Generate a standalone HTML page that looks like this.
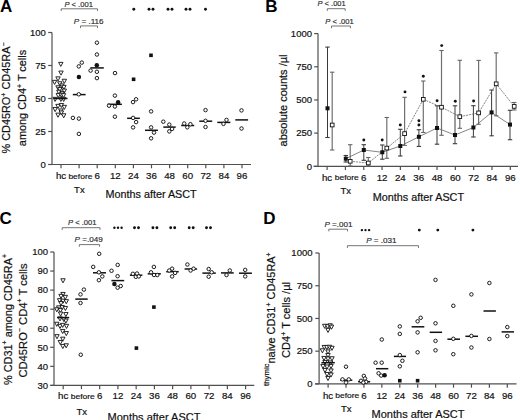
<!DOCTYPE html>
<html><head><meta charset="utf-8"><style>
html,body{margin:0;padding:0;background:#fff;overflow:hidden;}
svg{display:block;font-family:"Liberation Sans", sans-serif;}
text{stroke:#111;stroke-width:0.2px;}
</style></head><body>
<svg width="520" height="420" viewBox="0 0 520 420">
<line x1="52.00" y1="32.50" x2="52.00" y2="164.50" stroke="#505050" stroke-width="1.2" />
<line x1="48.20" y1="164.50" x2="52.00" y2="164.50" stroke="#505050" stroke-width="1.2" />
<text x="45.80" y="167.80" font-size="9.5" text-anchor="end" font-weight="normal" font-style="normal" fill="#111" >0</text>
<line x1="48.20" y1="131.50" x2="52.00" y2="131.50" stroke="#505050" stroke-width="1.2" />
<text x="45.80" y="134.80" font-size="9.5" text-anchor="end" font-weight="normal" font-style="normal" fill="#111" >25</text>
<line x1="48.20" y1="98.50" x2="52.00" y2="98.50" stroke="#505050" stroke-width="1.2" />
<text x="45.80" y="101.80" font-size="9.5" text-anchor="end" font-weight="normal" font-style="normal" fill="#111" >50</text>
<line x1="48.20" y1="65.50" x2="52.00" y2="65.50" stroke="#505050" stroke-width="1.2" />
<text x="45.80" y="68.80" font-size="9.5" text-anchor="end" font-weight="normal" font-style="normal" fill="#111" >75</text>
<line x1="48.20" y1="32.50" x2="52.00" y2="32.50" stroke="#505050" stroke-width="1.2" />
<text x="45.80" y="35.80" font-size="9.5" text-anchor="end" font-weight="normal" font-style="normal" fill="#111" >100</text>
<line x1="48.50" y1="164.50" x2="251.00" y2="164.50" stroke="#505050" stroke-width="1.2" />
<line x1="61.00" y1="164.50" x2="61.00" y2="168.30" stroke="#505050" stroke-width="1.2" />
<text x="61.00" y="178.80" font-size="9.7" text-anchor="middle" font-weight="normal" font-style="normal" fill="#111" >hc</text>
<line x1="79.10" y1="164.50" x2="79.10" y2="168.30" stroke="#505050" stroke-width="1.2" />
<text transform="translate(80.40,178.70) scale(1.13,1)" font-size="7.5" text-anchor="middle" fill="#111" style="stroke-width:0.16px">before</text>
<line x1="97.20" y1="164.50" x2="97.20" y2="168.30" stroke="#505050" stroke-width="1.2" />
<text x="97.20" y="178.80" font-size="9.7" text-anchor="middle" font-weight="normal" font-style="normal" fill="#111" >6</text>
<line x1="115.30" y1="164.50" x2="115.30" y2="168.30" stroke="#505050" stroke-width="1.2" />
<text x="115.30" y="178.80" font-size="9.7" text-anchor="middle" font-weight="normal" font-style="normal" fill="#111" >12</text>
<line x1="133.40" y1="164.50" x2="133.40" y2="168.30" stroke="#505050" stroke-width="1.2" />
<text x="133.40" y="178.80" font-size="9.7" text-anchor="middle" font-weight="normal" font-style="normal" fill="#111" >24</text>
<line x1="151.50" y1="164.50" x2="151.50" y2="168.30" stroke="#505050" stroke-width="1.2" />
<text x="151.50" y="178.80" font-size="9.7" text-anchor="middle" font-weight="normal" font-style="normal" fill="#111" >36</text>
<line x1="169.60" y1="164.50" x2="169.60" y2="168.30" stroke="#505050" stroke-width="1.2" />
<text x="169.60" y="178.80" font-size="9.7" text-anchor="middle" font-weight="normal" font-style="normal" fill="#111" >48</text>
<line x1="187.70" y1="164.50" x2="187.70" y2="168.30" stroke="#505050" stroke-width="1.2" />
<text x="187.70" y="178.80" font-size="9.7" text-anchor="middle" font-weight="normal" font-style="normal" fill="#111" >60</text>
<line x1="205.80" y1="164.50" x2="205.80" y2="168.30" stroke="#505050" stroke-width="1.2" />
<text x="205.80" y="178.80" font-size="9.7" text-anchor="middle" font-weight="normal" font-style="normal" fill="#111" >72</text>
<line x1="223.90" y1="164.50" x2="223.90" y2="168.30" stroke="#505050" stroke-width="1.2" />
<text x="223.90" y="178.80" font-size="9.7" text-anchor="middle" font-weight="normal" font-style="normal" fill="#111" >84</text>
<line x1="242.00" y1="164.50" x2="242.00" y2="168.30" stroke="#505050" stroke-width="1.2" />
<text x="242.00" y="178.80" font-size="9.7" text-anchor="middle" font-weight="normal" font-style="normal" fill="#111" >96</text>
<text x="79.40" y="193.40" font-size="9.5" text-anchor="middle" font-weight="normal" font-style="normal" fill="#111" >Tx</text>
<text x="105.50" y="198.20" font-size="10.8" text-anchor="start" font-weight="normal" font-style="normal" fill="#111" >Months after ASCT</text>
<text x="0.00" y="12.40" font-size="17" text-anchor="start" font-weight="bold" font-style="normal" fill="#000" style="stroke-width:0">A</text>
<text transform="translate(10.40,98.00) rotate(-90)" x="0" y="0" font-size="10.9" text-anchor="middle" fill="#111">% CD45RO<tspan font-size="7" dy="-4.2">+</tspan><tspan dy="4.2"> </tspan>CD45RA<tspan font-size="7" dy="-4.2">−</tspan></text>
<text transform="translate(25.80,98.00) rotate(-90)" x="0" y="0" font-size="10.9" text-anchor="middle" fill="#111">among CD4<tspan font-size="7" dy="-4.2">+</tspan><tspan dy="4.2"> </tspan>T cells</text>
<text x="64.40" y="6.60" font-size="7.6" fill="#2a2a2a" style="stroke:#2a2a2a;stroke-width:0.16px"><tspan font-style="italic">P</tspan> &lt; .001</text>
<path d="M61.20,11.00V8.80H97.50V11.00" fill="none" stroke="#666" stroke-width="0.9"/>
<text x="73.80" y="24.40" font-size="8.1" fill="#2a2a2a" style="stroke:#2a2a2a;stroke-width:0.16px"><tspan font-style="italic">P</tspan> = .116</text>
<path d="M80.50,28.10V25.90H97.50V28.10" fill="none" stroke="#666" stroke-width="0.9"/>
<circle cx="133.80" cy="9.20" r="1.45" fill="#111"/>
<circle cx="149.00" cy="9.20" r="1.45" fill="#111"/>
<circle cx="153.00" cy="9.20" r="1.45" fill="#111"/>
<circle cx="168.00" cy="9.20" r="1.45" fill="#111"/>
<circle cx="172.00" cy="9.20" r="1.45" fill="#111"/>
<circle cx="186.00" cy="9.20" r="1.45" fill="#111"/>
<circle cx="190.00" cy="9.20" r="1.45" fill="#111"/>
<circle cx="205.50" cy="9.20" r="1.45" fill="#111"/>
<path d="M58.60,62.35H63.00L60.80,66.45Z" fill="#fff" stroke="#111" stroke-width="0.9" stroke-linejoin="miter"/>
<path d="M58.80,71.05H63.20L61.00,75.15Z" fill="#fff" stroke="#111" stroke-width="0.9" stroke-linejoin="miter"/>
<path d="M55.80,76.85H60.20L58.00,80.95Z" fill="#fff" stroke="#111" stroke-width="0.9" stroke-linejoin="miter"/>
<path d="M62.10,79.25H66.50L64.30,83.35Z" fill="#fff" stroke="#111" stroke-width="0.9" stroke-linejoin="miter"/>
<path d="M52.40,80.35H56.80L54.60,84.45Z" fill="#fff" stroke="#111" stroke-width="0.9" stroke-linejoin="miter"/>
<path d="M57.60,81.75H62.00L59.80,85.85Z" fill="#fff" stroke="#111" stroke-width="0.9" stroke-linejoin="miter"/>
<path d="M59.70,83.95H64.10L61.90,88.05Z" fill="#fff" stroke="#111" stroke-width="0.9" stroke-linejoin="miter"/>
<path d="M55.80,85.75H60.20L58.00,89.85Z" fill="#fff" stroke="#111" stroke-width="0.9" stroke-linejoin="miter"/>
<path d="M61.70,85.35H66.10L63.90,89.45Z" fill="#fff" stroke="#111" stroke-width="0.9" stroke-linejoin="miter"/>
<path d="M57.60,87.55H62.00L59.80,91.65Z" fill="#fff" stroke="#111" stroke-width="0.9" stroke-linejoin="miter"/>
<path d="M62.10,89.05H66.50L64.30,93.15Z" fill="#fff" stroke="#111" stroke-width="0.9" stroke-linejoin="miter"/>
<path d="M56.70,90.25H61.10L58.90,94.35Z" fill="#fff" stroke="#111" stroke-width="0.9" stroke-linejoin="miter"/>
<path d="M60.00,91.45H64.40L62.20,95.55Z" fill="#fff" stroke="#111" stroke-width="0.9" stroke-linejoin="miter"/>
<path d="M56.10,93.45H60.50L58.30,97.55Z" fill="#fff" stroke="#111" stroke-width="0.9" stroke-linejoin="miter"/>
<path d="M59.10,93.15H63.50L61.30,97.25Z" fill="#fff" stroke="#111" stroke-width="0.9" stroke-linejoin="miter"/>
<path d="M61.30,93.65H65.70L63.50,97.75Z" fill="#fff" stroke="#111" stroke-width="0.9" stroke-linejoin="miter"/>
<path d="M52.90,97.35H57.30L55.10,101.45Z" fill="#fff" stroke="#111" stroke-width="0.9" stroke-linejoin="miter"/>
<path d="M58.70,97.35H63.10L60.90,101.45Z" fill="#fff" stroke="#111" stroke-width="0.9" stroke-linejoin="miter"/>
<path d="M61.50,97.35H65.90L63.70,101.45Z" fill="#fff" stroke="#111" stroke-width="0.9" stroke-linejoin="miter"/>
<path d="M55.80,104.35H60.20L58.00,108.45Z" fill="#fff" stroke="#111" stroke-width="0.9" stroke-linejoin="miter"/>
<path d="M59.20,103.45H63.60L61.40,107.55Z" fill="#fff" stroke="#111" stroke-width="0.9" stroke-linejoin="miter"/>
<path d="M62.10,105.35H66.50L64.30,109.45Z" fill="#fff" stroke="#111" stroke-width="0.9" stroke-linejoin="miter"/>
<path d="M52.90,107.55H57.30L55.10,111.65Z" fill="#fff" stroke="#111" stroke-width="0.9" stroke-linejoin="miter"/>
<path d="M58.70,108.95H63.10L60.90,113.05Z" fill="#fff" stroke="#111" stroke-width="0.9" stroke-linejoin="miter"/>
<path d="M59.20,110.95H63.60L61.40,115.05Z" fill="#fff" stroke="#111" stroke-width="0.9" stroke-linejoin="miter"/>
<path d="M55.80,113.15H60.20L58.00,117.25Z" fill="#fff" stroke="#111" stroke-width="0.9" stroke-linejoin="miter"/>
<path d="M61.50,113.75H65.90L63.70,117.85Z" fill="#fff" stroke="#111" stroke-width="0.9" stroke-linejoin="miter"/>
<line x1="54.00" y1="98.50" x2="67.50" y2="98.50" stroke="#111" stroke-width="1.5" />
<line x1="72.80" y1="94.60" x2="85.60" y2="94.60" stroke="#111" stroke-width="1.5" />
<circle cx="78.80" cy="66.40" r="1.75" fill="#fff" stroke="#111" stroke-width="0.95"/>
<circle cx="81.80" cy="62.60" r="1.75" fill="#fff" stroke="#111" stroke-width="0.95"/>
<circle cx="78.80" cy="94.30" r="1.75" fill="#fff" stroke="#111" stroke-width="0.95"/>
<circle cx="72.90" cy="117.90" r="1.75" fill="#fff" stroke="#111" stroke-width="0.95"/>
<circle cx="78.90" cy="118.60" r="1.75" fill="#fff" stroke="#111" stroke-width="0.95"/>
<circle cx="78.90" cy="133.90" r="1.75" fill="#fff" stroke="#111" stroke-width="0.95"/>
<circle cx="78.90" cy="76.90" r="2.25" fill="#111"/>
<line x1="90.30" y1="67.90" x2="103.80" y2="67.90" stroke="#111" stroke-width="1.5" />
<circle cx="96.90" cy="42.70" r="1.75" fill="#fff" stroke="#111" stroke-width="0.95"/>
<circle cx="96.90" cy="54.50" r="1.75" fill="#fff" stroke="#111" stroke-width="0.95"/>
<circle cx="90.60" cy="70.60" r="1.75" fill="#fff" stroke="#111" stroke-width="0.95"/>
<circle cx="96.90" cy="71.80" r="1.75" fill="#fff" stroke="#111" stroke-width="0.95"/>
<circle cx="96.90" cy="78.10" r="1.75" fill="#fff" stroke="#111" stroke-width="0.95"/>
<circle cx="96.80" cy="65.30" r="2.25" fill="#111"/>
<line x1="107.60" y1="104.30" x2="121.90" y2="104.30" stroke="#111" stroke-width="1.5" />
<circle cx="115.00" cy="73.10" r="1.75" fill="#fff" stroke="#111" stroke-width="0.95"/>
<circle cx="114.90" cy="95.60" r="1.75" fill="#fff" stroke="#111" stroke-width="0.95"/>
<circle cx="109.00" cy="105.70" r="1.75" fill="#fff" stroke="#111" stroke-width="0.95"/>
<circle cx="114.90" cy="106.50" r="1.75" fill="#fff" stroke="#111" stroke-width="0.95"/>
<circle cx="114.90" cy="116.70" r="1.75" fill="#fff" stroke="#111" stroke-width="0.95"/>
<circle cx="118.10" cy="102.20" r="2.25" fill="#111"/>
<line x1="127.10" y1="118.30" x2="139.80" y2="118.30" stroke="#111" stroke-width="1.5" />
<circle cx="133.00" cy="102.10" r="1.75" fill="#fff" stroke="#111" stroke-width="0.95"/>
<circle cx="136.10" cy="99.30" r="1.75" fill="#fff" stroke="#111" stroke-width="0.95"/>
<circle cx="133.10" cy="117.90" r="1.75" fill="#fff" stroke="#111" stroke-width="0.95"/>
<circle cx="136.10" cy="122.10" r="1.75" fill="#fff" stroke="#111" stroke-width="0.95"/>
<circle cx="133.10" cy="127.40" r="1.75" fill="#fff" stroke="#111" stroke-width="0.95"/>
<rect x="131.80" y="77.50" width="3.60" height="3.60" fill="#111"/>
<line x1="145.00" y1="130.30" x2="157.90" y2="130.30" stroke="#111" stroke-width="1.5" />
<circle cx="151.10" cy="111.40" r="1.75" fill="#fff" stroke="#111" stroke-width="0.95"/>
<circle cx="151.10" cy="127.40" r="1.75" fill="#fff" stroke="#111" stroke-width="0.95"/>
<circle cx="154.00" cy="132.60" r="1.75" fill="#fff" stroke="#111" stroke-width="0.95"/>
<circle cx="151.10" cy="138.30" r="1.75" fill="#fff" stroke="#111" stroke-width="0.95"/>
<rect x="149.20" y="53.50" width="3.60" height="3.60" fill="#111"/>
<line x1="163.30" y1="127.10" x2="175.70" y2="127.10" stroke="#111" stroke-width="1.5" />
<circle cx="163.30" cy="121.70" r="1.75" fill="#fff" stroke="#111" stroke-width="0.95"/>
<circle cx="169.30" cy="124.60" r="1.75" fill="#fff" stroke="#111" stroke-width="0.95"/>
<circle cx="172.10" cy="128.90" r="1.75" fill="#fff" stroke="#111" stroke-width="0.95"/>
<circle cx="169.30" cy="131.40" r="1.75" fill="#fff" stroke="#111" stroke-width="0.95"/>
<line x1="181.20" y1="125.50" x2="194.20" y2="125.50" stroke="#111" stroke-width="1.5" />
<circle cx="184.20" cy="123.50" r="1.75" fill="#fff" stroke="#111" stroke-width="0.95"/>
<circle cx="187.30" cy="127.30" r="1.75" fill="#fff" stroke="#111" stroke-width="0.95"/>
<circle cx="190.40" cy="124.20" r="1.75" fill="#fff" stroke="#111" stroke-width="0.95"/>
<line x1="199.30" y1="121.20" x2="212.20" y2="121.20" stroke="#111" stroke-width="1.5" />
<circle cx="205.50" cy="110.10" r="1.75" fill="#fff" stroke="#111" stroke-width="0.95"/>
<circle cx="205.50" cy="120.80" r="1.75" fill="#fff" stroke="#111" stroke-width="0.95"/>
<circle cx="205.50" cy="127.00" r="1.75" fill="#fff" stroke="#111" stroke-width="0.95"/>
<line x1="217.30" y1="122.40" x2="230.40" y2="122.40" stroke="#111" stroke-width="1.5" />
<circle cx="223.50" cy="123.90" r="1.75" fill="#fff" stroke="#111" stroke-width="0.95"/>
<circle cx="226.50" cy="119.90" r="1.75" fill="#fff" stroke="#111" stroke-width="0.95"/>
<line x1="235.30" y1="119.90" x2="248.10" y2="119.90" stroke="#111" stroke-width="1.5" />
<circle cx="241.50" cy="110.40" r="1.75" fill="#fff" stroke="#111" stroke-width="0.95"/>
<circle cx="241.50" cy="128.50" r="1.75" fill="#fff" stroke="#111" stroke-width="0.95"/>
<line x1="318.00" y1="33.60" x2="318.00" y2="166.30" stroke="#505050" stroke-width="1.2" />
<line x1="314.20" y1="166.30" x2="318.00" y2="166.30" stroke="#505050" stroke-width="1.2" />
<text x="312.00" y="169.60" font-size="9.5" text-anchor="end" font-weight="normal" font-style="normal" fill="#111" >0</text>
<line x1="314.20" y1="133.12" x2="318.00" y2="133.12" stroke="#505050" stroke-width="1.2" />
<text x="312.00" y="136.43" font-size="9.5" text-anchor="end" font-weight="normal" font-style="normal" fill="#111" >250</text>
<line x1="314.20" y1="99.95" x2="318.00" y2="99.95" stroke="#505050" stroke-width="1.2" />
<text x="312.00" y="103.25" font-size="9.5" text-anchor="end" font-weight="normal" font-style="normal" fill="#111" >500</text>
<line x1="314.20" y1="66.77" x2="318.00" y2="66.77" stroke="#505050" stroke-width="1.2" />
<text x="312.00" y="70.07" font-size="9.5" text-anchor="end" font-weight="normal" font-style="normal" fill="#111" >750</text>
<line x1="314.20" y1="33.60" x2="318.00" y2="33.60" stroke="#505050" stroke-width="1.2" />
<text x="312.00" y="36.90" font-size="9.5" text-anchor="end" font-weight="normal" font-style="normal" fill="#111" >1000</text>
<line x1="313.50" y1="166.30" x2="518.00" y2="166.30" stroke="#505050" stroke-width="1.2" />
<line x1="327.10" y1="166.30" x2="327.10" y2="170.10" stroke="#505050" stroke-width="1.2" />
<text x="327.10" y="180.50" font-size="9.7" text-anchor="middle" font-weight="normal" font-style="normal" fill="#111" >hc</text>
<line x1="345.42" y1="166.30" x2="345.42" y2="170.10" stroke="#505050" stroke-width="1.2" />
<text transform="translate(346.72,180.40) scale(1.13,1)" font-size="7.5" text-anchor="middle" fill="#111" style="stroke-width:0.16px">before</text>
<line x1="363.74" y1="166.30" x2="363.74" y2="170.10" stroke="#505050" stroke-width="1.2" />
<text x="363.74" y="180.50" font-size="9.7" text-anchor="middle" font-weight="normal" font-style="normal" fill="#111" >6</text>
<line x1="382.06" y1="166.30" x2="382.06" y2="170.10" stroke="#505050" stroke-width="1.2" />
<text x="382.06" y="180.50" font-size="9.7" text-anchor="middle" font-weight="normal" font-style="normal" fill="#111" >12</text>
<line x1="400.38" y1="166.30" x2="400.38" y2="170.10" stroke="#505050" stroke-width="1.2" />
<text x="400.38" y="180.50" font-size="9.7" text-anchor="middle" font-weight="normal" font-style="normal" fill="#111" >24</text>
<line x1="418.70" y1="166.30" x2="418.70" y2="170.10" stroke="#505050" stroke-width="1.2" />
<text x="418.70" y="180.50" font-size="9.7" text-anchor="middle" font-weight="normal" font-style="normal" fill="#111" >36</text>
<line x1="437.02" y1="166.30" x2="437.02" y2="170.10" stroke="#505050" stroke-width="1.2" />
<text x="437.02" y="180.50" font-size="9.7" text-anchor="middle" font-weight="normal" font-style="normal" fill="#111" >48</text>
<line x1="455.34" y1="166.30" x2="455.34" y2="170.10" stroke="#505050" stroke-width="1.2" />
<text x="455.34" y="180.50" font-size="9.7" text-anchor="middle" font-weight="normal" font-style="normal" fill="#111" >60</text>
<line x1="473.66" y1="166.30" x2="473.66" y2="170.10" stroke="#505050" stroke-width="1.2" />
<text x="473.66" y="180.50" font-size="9.7" text-anchor="middle" font-weight="normal" font-style="normal" fill="#111" >72</text>
<line x1="491.98" y1="166.30" x2="491.98" y2="170.10" stroke="#505050" stroke-width="1.2" />
<text x="491.98" y="180.50" font-size="9.7" text-anchor="middle" font-weight="normal" font-style="normal" fill="#111" >84</text>
<line x1="510.30" y1="166.30" x2="510.30" y2="170.10" stroke="#505050" stroke-width="1.2" />
<text x="510.30" y="180.50" font-size="9.7" text-anchor="middle" font-weight="normal" font-style="normal" fill="#111" >96</text>
<text x="345.72" y="193.80" font-size="9.5" text-anchor="middle" font-weight="normal" font-style="normal" fill="#111" >Tx</text>
<text x="372.80" y="200.80" font-size="10.8" text-anchor="start" font-weight="normal" font-style="normal" fill="#111" >Months after ASCT</text>
<text x="265.30" y="12.20" font-size="17" text-anchor="start" font-weight="bold" font-style="normal" fill="#000" style="stroke-width:0">B</text>
<text transform="translate(286.80,100.50) rotate(-90)" x="0" y="0" font-size="11" text-anchor="middle" fill="#111">absolute counts /µl</text>
<text x="317.50" y="5.80" font-size="7.5" fill="#2a2a2a" style="stroke:#2a2a2a;stroke-width:0.16px"><tspan font-style="italic">P</tspan> &lt; .001</text>
<path d="M327.30,10.90V8.70H345.20V10.90" fill="none" stroke="#666" stroke-width="0.9"/>
<text x="325.20" y="23.50" font-size="7.6" fill="#2a2a2a" style="stroke:#2a2a2a;stroke-width:0.16px"><tspan font-style="italic">P</tspan> &lt; .001</text>
<path d="M331.50,28.20V26.00H350.40V28.20" fill="none" stroke="#666" stroke-width="0.9"/>
<line x1="332.20" y1="72.20" x2="332.20" y2="150.00" stroke="#707070" stroke-width="1.2" />
<line x1="330.00" y1="72.20" x2="334.40" y2="72.20" stroke="#666" stroke-width="1.1" />
<line x1="330.00" y1="150.00" x2="334.40" y2="150.00" stroke="#666" stroke-width="1.1" />
<line x1="350.20" y1="144.70" x2="350.20" y2="166.00" stroke="#707070" stroke-width="1.2" />
<line x1="348.00" y1="144.70" x2="352.40" y2="144.70" stroke="#666" stroke-width="1.1" />
<line x1="348.00" y1="166.00" x2="352.40" y2="166.00" stroke="#666" stroke-width="1.1" />
<line x1="368.30" y1="157.50" x2="368.30" y2="166.00" stroke="#707070" stroke-width="1.2" />
<line x1="366.10" y1="157.50" x2="370.50" y2="157.50" stroke="#666" stroke-width="1.1" />
<line x1="366.10" y1="166.00" x2="370.50" y2="166.00" stroke="#666" stroke-width="1.1" />
<line x1="386.80" y1="117.50" x2="386.80" y2="158.30" stroke="#707070" stroke-width="1.2" />
<line x1="384.60" y1="117.50" x2="389.00" y2="117.50" stroke="#666" stroke-width="1.1" />
<line x1="384.60" y1="158.30" x2="389.00" y2="158.30" stroke="#666" stroke-width="1.1" />
<line x1="404.60" y1="97.30" x2="404.60" y2="145.40" stroke="#707070" stroke-width="1.2" />
<line x1="402.40" y1="97.30" x2="406.80" y2="97.30" stroke="#666" stroke-width="1.1" />
<line x1="402.40" y1="145.40" x2="406.80" y2="145.40" stroke="#666" stroke-width="1.1" />
<line x1="423.30" y1="81.00" x2="423.30" y2="132.50" stroke="#707070" stroke-width="1.2" />
<line x1="421.10" y1="81.00" x2="425.50" y2="81.00" stroke="#666" stroke-width="1.1" />
<line x1="421.10" y1="132.50" x2="425.50" y2="132.50" stroke="#666" stroke-width="1.1" />
<line x1="441.50" y1="50.50" x2="441.50" y2="135.30" stroke="#707070" stroke-width="1.2" />
<line x1="439.30" y1="50.50" x2="443.70" y2="50.50" stroke="#666" stroke-width="1.1" />
<line x1="439.30" y1="135.30" x2="443.70" y2="135.30" stroke="#666" stroke-width="1.1" />
<line x1="459.80" y1="60.30" x2="459.80" y2="128.30" stroke="#707070" stroke-width="1.2" />
<line x1="457.60" y1="60.30" x2="462.00" y2="60.30" stroke="#666" stroke-width="1.1" />
<line x1="457.60" y1="128.30" x2="462.00" y2="128.30" stroke="#666" stroke-width="1.1" />
<line x1="478.60" y1="60.40" x2="478.60" y2="124.30" stroke="#707070" stroke-width="1.2" />
<line x1="476.40" y1="60.40" x2="480.80" y2="60.40" stroke="#666" stroke-width="1.1" />
<line x1="476.40" y1="124.30" x2="480.80" y2="124.30" stroke="#666" stroke-width="1.1" />
<line x1="496.20" y1="52.90" x2="496.20" y2="115.80" stroke="#707070" stroke-width="1.2" />
<line x1="494.00" y1="52.90" x2="498.40" y2="52.90" stroke="#666" stroke-width="1.1" />
<line x1="494.00" y1="115.80" x2="498.40" y2="115.80" stroke="#666" stroke-width="1.1" />
<line x1="514.20" y1="102.50" x2="514.20" y2="110.00" stroke="#707070" stroke-width="1.2" />
<line x1="512.00" y1="102.50" x2="516.40" y2="102.50" stroke="#666" stroke-width="1.1" />
<line x1="512.00" y1="110.00" x2="516.40" y2="110.00" stroke="#666" stroke-width="1.1" />
<line x1="327.50" y1="47.10" x2="327.50" y2="137.50" stroke="#3a3a3a" stroke-width="1.0" />
<line x1="325.30" y1="47.10" x2="329.70" y2="47.10" stroke="#3a3a3a" stroke-width="1.1" />
<line x1="325.30" y1="137.50" x2="329.70" y2="137.50" stroke="#3a3a3a" stroke-width="1.1" />
<line x1="345.80" y1="155.50" x2="345.80" y2="162.00" stroke="#3a3a3a" stroke-width="1.0" />
<line x1="343.60" y1="155.50" x2="348.00" y2="155.50" stroke="#3a3a3a" stroke-width="1.1" />
<line x1="343.60" y1="162.00" x2="348.00" y2="162.00" stroke="#3a3a3a" stroke-width="1.1" />
<line x1="363.80" y1="144.70" x2="363.80" y2="160.30" stroke="#3a3a3a" stroke-width="1.0" />
<line x1="361.60" y1="144.70" x2="366.00" y2="144.70" stroke="#3a3a3a" stroke-width="1.1" />
<line x1="361.60" y1="160.30" x2="366.00" y2="160.30" stroke="#3a3a3a" stroke-width="1.1" />
<line x1="382.30" y1="145.00" x2="382.30" y2="159.20" stroke="#3a3a3a" stroke-width="1.0" />
<line x1="380.10" y1="145.00" x2="384.50" y2="145.00" stroke="#3a3a3a" stroke-width="1.1" />
<line x1="380.10" y1="159.20" x2="384.50" y2="159.20" stroke="#3a3a3a" stroke-width="1.1" />
<line x1="400.30" y1="129.30" x2="400.30" y2="156.00" stroke="#3a3a3a" stroke-width="1.0" />
<line x1="398.10" y1="129.30" x2="402.50" y2="129.30" stroke="#3a3a3a" stroke-width="1.1" />
<line x1="398.10" y1="156.00" x2="402.50" y2="156.00" stroke="#3a3a3a" stroke-width="1.1" />
<line x1="418.90" y1="129.70" x2="418.90" y2="146.40" stroke="#3a3a3a" stroke-width="1.0" />
<line x1="416.70" y1="129.70" x2="421.10" y2="129.70" stroke="#3a3a3a" stroke-width="1.1" />
<line x1="416.70" y1="146.40" x2="421.10" y2="146.40" stroke="#3a3a3a" stroke-width="1.1" />
<line x1="437.00" y1="105.80" x2="437.00" y2="144.20" stroke="#3a3a3a" stroke-width="1.0" />
<line x1="434.80" y1="105.80" x2="439.20" y2="105.80" stroke="#3a3a3a" stroke-width="1.1" />
<line x1="434.80" y1="144.20" x2="439.20" y2="144.20" stroke="#3a3a3a" stroke-width="1.1" />
<line x1="455.00" y1="105.80" x2="455.00" y2="143.70" stroke="#3a3a3a" stroke-width="1.0" />
<line x1="452.80" y1="105.80" x2="457.20" y2="105.80" stroke="#3a3a3a" stroke-width="1.1" />
<line x1="452.80" y1="143.70" x2="457.20" y2="143.70" stroke="#3a3a3a" stroke-width="1.1" />
<line x1="473.40" y1="105.70" x2="473.40" y2="137.00" stroke="#3a3a3a" stroke-width="1.0" />
<line x1="471.20" y1="105.70" x2="475.60" y2="105.70" stroke="#3a3a3a" stroke-width="1.1" />
<line x1="471.20" y1="137.00" x2="475.60" y2="137.00" stroke="#3a3a3a" stroke-width="1.1" />
<line x1="491.60" y1="90.00" x2="491.60" y2="135.80" stroke="#3a3a3a" stroke-width="1.0" />
<line x1="489.40" y1="90.00" x2="493.80" y2="90.00" stroke="#3a3a3a" stroke-width="1.1" />
<line x1="489.40" y1="135.80" x2="493.80" y2="135.80" stroke="#3a3a3a" stroke-width="1.1" />
<line x1="510.00" y1="110.30" x2="510.00" y2="139.70" stroke="#3a3a3a" stroke-width="1.0" />
<line x1="507.80" y1="110.30" x2="512.20" y2="110.30" stroke="#3a3a3a" stroke-width="1.1" />
<line x1="507.80" y1="139.70" x2="512.20" y2="139.70" stroke="#3a3a3a" stroke-width="1.1" />
<polyline points="345.80,158.70 363.80,150.00 382.30,152.30 400.30,146.00 418.90,136.80 437.00,128.00 455.00,135.00 473.40,127.50 491.60,112.40 510.00,124.60" fill="none" stroke="#666" stroke-width="0.8"/>
<polyline points="350.20,161.30 368.30,163.00 386.80,148.10 404.60,133.60 423.30,99.30 441.50,107.20 459.80,116.70 478.60,112.90 496.20,83.80 514.20,106.40" fill="none" stroke="#666" stroke-width="0.8" stroke-dasharray="2,0.9"/>
<rect x="325.50" y="106.30" width="4.00" height="4.00" fill="#111"/>
<rect x="343.80" y="156.70" width="4.00" height="4.00" fill="#111"/>
<rect x="361.80" y="148.00" width="4.00" height="4.00" fill="#111"/>
<rect x="380.30" y="150.30" width="4.00" height="4.00" fill="#111"/>
<rect x="398.30" y="144.00" width="4.00" height="4.00" fill="#111"/>
<rect x="416.90" y="134.80" width="4.00" height="4.00" fill="#111"/>
<rect x="435.00" y="126.00" width="4.00" height="4.00" fill="#111"/>
<rect x="453.00" y="133.00" width="4.00" height="4.00" fill="#111"/>
<rect x="471.40" y="125.50" width="4.00" height="4.00" fill="#111"/>
<rect x="489.60" y="110.40" width="4.00" height="4.00" fill="#111"/>
<rect x="508.00" y="122.60" width="4.00" height="4.00" fill="#111"/>
<rect x="330.35" y="123.15" width="3.70" height="3.70" fill="#fff" stroke="#111" stroke-width="0.9"/>
<rect x="348.35" y="159.45" width="3.70" height="3.70" fill="#fff" stroke="#111" stroke-width="0.9"/>
<rect x="366.45" y="161.15" width="3.70" height="3.70" fill="#fff" stroke="#111" stroke-width="0.9"/>
<rect x="384.95" y="146.25" width="3.70" height="3.70" fill="#fff" stroke="#111" stroke-width="0.9"/>
<rect x="402.75" y="131.75" width="3.70" height="3.70" fill="#fff" stroke="#111" stroke-width="0.9"/>
<rect x="421.45" y="97.45" width="3.70" height="3.70" fill="#fff" stroke="#111" stroke-width="0.9"/>
<rect x="439.65" y="105.35" width="3.70" height="3.70" fill="#fff" stroke="#111" stroke-width="0.9"/>
<rect x="457.95" y="114.85" width="3.70" height="3.70" fill="#fff" stroke="#111" stroke-width="0.9"/>
<rect x="476.75" y="111.05" width="3.70" height="3.70" fill="#fff" stroke="#111" stroke-width="0.9"/>
<rect x="494.35" y="81.95" width="3.70" height="3.70" fill="#fff" stroke="#111" stroke-width="0.9"/>
<rect x="512.35" y="104.55" width="3.70" height="3.70" fill="#fff" stroke="#111" stroke-width="0.9"/>
<circle cx="363.80" cy="140.00" r="1.45" fill="#111"/>
<circle cx="382.20" cy="140.00" r="1.45" fill="#111"/>
<circle cx="400.30" cy="125.00" r="1.45" fill="#111"/>
<circle cx="405.00" cy="91.90" r="1.45" fill="#111"/>
<circle cx="418.90" cy="120.70" r="1.45" fill="#111"/>
<circle cx="418.90" cy="125.00" r="1.45" fill="#111"/>
<circle cx="423.30" cy="76.20" r="1.45" fill="#111"/>
<circle cx="441.70" cy="45.60" r="1.45" fill="#111"/>
<circle cx="437.10" cy="100.80" r="1.45" fill="#111"/>
<circle cx="455.30" cy="101.20" r="1.45" fill="#111"/>
<circle cx="473.60" cy="101.00" r="1.45" fill="#111"/>
<line x1="54.00" y1="252.00" x2="54.00" y2="385.40" stroke="#505050" stroke-width="1.2" />
<line x1="50.20" y1="385.40" x2="54.00" y2="385.40" stroke="#505050" stroke-width="1.2" />
<text x="48.00" y="388.70" font-size="9.5" text-anchor="end" font-weight="normal" font-style="normal" fill="#111" >30</text>
<line x1="50.20" y1="366.34" x2="54.00" y2="366.34" stroke="#505050" stroke-width="1.2" />
<text x="48.00" y="369.64" font-size="9.5" text-anchor="end" font-weight="normal" font-style="normal" fill="#111" >40</text>
<line x1="50.20" y1="347.29" x2="54.00" y2="347.29" stroke="#505050" stroke-width="1.2" />
<text x="48.00" y="350.59" font-size="9.5" text-anchor="end" font-weight="normal" font-style="normal" fill="#111" >50</text>
<line x1="50.20" y1="328.23" x2="54.00" y2="328.23" stroke="#505050" stroke-width="1.2" />
<text x="48.00" y="331.53" font-size="9.5" text-anchor="end" font-weight="normal" font-style="normal" fill="#111" >60</text>
<line x1="50.20" y1="309.17" x2="54.00" y2="309.17" stroke="#505050" stroke-width="1.2" />
<text x="48.00" y="312.47" font-size="9.5" text-anchor="end" font-weight="normal" font-style="normal" fill="#111" >70</text>
<line x1="50.20" y1="290.11" x2="54.00" y2="290.11" stroke="#505050" stroke-width="1.2" />
<text x="48.00" y="293.41" font-size="9.5" text-anchor="end" font-weight="normal" font-style="normal" fill="#111" >80</text>
<line x1="50.20" y1="271.06" x2="54.00" y2="271.06" stroke="#505050" stroke-width="1.2" />
<text x="48.00" y="274.36" font-size="9.5" text-anchor="end" font-weight="normal" font-style="normal" fill="#111" >90</text>
<line x1="50.20" y1="252.00" x2="54.00" y2="252.00" stroke="#505050" stroke-width="1.2" />
<text x="48.00" y="255.30" font-size="9.5" text-anchor="end" font-weight="normal" font-style="normal" fill="#111" >100</text>
<line x1="50.40" y1="385.40" x2="254.30" y2="385.40" stroke="#505050" stroke-width="1.2" />
<line x1="63.20" y1="385.40" x2="63.20" y2="389.20" stroke="#505050" stroke-width="1.2" />
<text x="63.20" y="399.40" font-size="9.7" text-anchor="middle" font-weight="normal" font-style="normal" fill="#111" >hc</text>
<line x1="81.44" y1="385.40" x2="81.44" y2="389.20" stroke="#505050" stroke-width="1.2" />
<text transform="translate(82.74,399.30) scale(1.13,1)" font-size="7.5" text-anchor="middle" fill="#111" style="stroke-width:0.16px">before</text>
<line x1="99.68" y1="385.40" x2="99.68" y2="389.20" stroke="#505050" stroke-width="1.2" />
<text x="99.68" y="399.40" font-size="9.7" text-anchor="middle" font-weight="normal" font-style="normal" fill="#111" >6</text>
<line x1="117.92" y1="385.40" x2="117.92" y2="389.20" stroke="#505050" stroke-width="1.2" />
<text x="117.92" y="399.40" font-size="9.7" text-anchor="middle" font-weight="normal" font-style="normal" fill="#111" >12</text>
<line x1="136.16" y1="385.40" x2="136.16" y2="389.20" stroke="#505050" stroke-width="1.2" />
<text x="136.16" y="399.40" font-size="9.7" text-anchor="middle" font-weight="normal" font-style="normal" fill="#111" >24</text>
<line x1="154.40" y1="385.40" x2="154.40" y2="389.20" stroke="#505050" stroke-width="1.2" />
<text x="154.40" y="399.40" font-size="9.7" text-anchor="middle" font-weight="normal" font-style="normal" fill="#111" >36</text>
<line x1="172.64" y1="385.40" x2="172.64" y2="389.20" stroke="#505050" stroke-width="1.2" />
<text x="172.64" y="399.40" font-size="9.7" text-anchor="middle" font-weight="normal" font-style="normal" fill="#111" >48</text>
<line x1="190.88" y1="385.40" x2="190.88" y2="389.20" stroke="#505050" stroke-width="1.2" />
<text x="190.88" y="399.40" font-size="9.7" text-anchor="middle" font-weight="normal" font-style="normal" fill="#111" >60</text>
<line x1="209.12" y1="385.40" x2="209.12" y2="389.20" stroke="#505050" stroke-width="1.2" />
<text x="209.12" y="399.40" font-size="9.7" text-anchor="middle" font-weight="normal" font-style="normal" fill="#111" >72</text>
<line x1="227.36" y1="385.40" x2="227.36" y2="389.20" stroke="#505050" stroke-width="1.2" />
<text x="227.36" y="399.40" font-size="9.7" text-anchor="middle" font-weight="normal" font-style="normal" fill="#111" >84</text>
<line x1="245.60" y1="385.40" x2="245.60" y2="389.20" stroke="#505050" stroke-width="1.2" />
<text x="245.60" y="399.40" font-size="9.7" text-anchor="middle" font-weight="normal" font-style="normal" fill="#111" >96</text>
<text x="81.74" y="414.50" font-size="9.5" text-anchor="middle" font-weight="normal" font-style="normal" fill="#111" >Tx</text>
<text x="107.50" y="421.30" font-size="11" text-anchor="start" font-weight="normal" font-style="normal" fill="#111" >Months after ASCT</text>
<text x="-0.60" y="224.40" font-size="17" text-anchor="start" font-weight="bold" font-style="normal" fill="#000" style="stroke-width:0">C</text>
<text transform="translate(11.60,319.50) rotate(-90)" x="0" y="0" font-size="10.9" text-anchor="middle" fill="#111">% CD31<tspan font-size="7" dy="-4.2">+</tspan><tspan dy="4.2"> </tspan>among CD45RA<tspan font-size="7" dy="-4.2">+</tspan></text>
<text transform="translate(26.50,320.50) rotate(-90)" x="0" y="0" font-size="11.2" text-anchor="middle" fill="#111">CD45RO<tspan font-size="7" dy="-4.2">−</tspan><tspan dy="4.2"> </tspan>CD4<tspan font-size="7" dy="-4.2">+</tspan><tspan dy="4.2"> </tspan>T cells</text>
<text x="68.00" y="224.60" font-size="7.6" fill="#2a2a2a" style="stroke:#2a2a2a;stroke-width:0.16px"><tspan font-style="italic">P</tspan> &lt; .001</text>
<path d="M62.20,229.90V227.70H100.00V229.90" fill="none" stroke="#666" stroke-width="0.9"/>
<text x="74.60" y="242.40" font-size="8.1" fill="#2a2a2a" style="stroke:#2a2a2a;stroke-width:0.16px"><tspan font-style="italic">P</tspan> =.049</text>
<path d="M79.30,246.80V244.60H99.60V246.80" fill="none" stroke="#666" stroke-width="0.9"/>
<circle cx="114.40" cy="227.70" r="1.2" fill="#111"/>
<circle cx="118.00" cy="227.70" r="1.2" fill="#111"/>
<circle cx="121.60" cy="227.70" r="1.2" fill="#111"/>
<circle cx="134.50" cy="227.70" r="1.45" fill="#111"/>
<circle cx="138.50" cy="227.70" r="1.45" fill="#111"/>
<circle cx="152.90" cy="227.70" r="1.45" fill="#111"/>
<circle cx="156.90" cy="227.70" r="1.45" fill="#111"/>
<circle cx="170.70" cy="227.70" r="1.45" fill="#111"/>
<circle cx="174.70" cy="227.70" r="1.45" fill="#111"/>
<circle cx="189.20" cy="227.70" r="1.45" fill="#111"/>
<circle cx="193.20" cy="227.70" r="1.45" fill="#111"/>
<circle cx="206.50" cy="227.70" r="1.45" fill="#111"/>
<circle cx="210.50" cy="227.70" r="1.45" fill="#111"/>
<path d="M60.80,278.75H65.20L63.00,282.85Z" fill="#fff" stroke="#111" stroke-width="0.9" stroke-linejoin="miter"/>
<path d="M60.80,292.45H65.20L63.00,296.55Z" fill="#fff" stroke="#111" stroke-width="0.9" stroke-linejoin="miter"/>
<path d="M58.80,294.35H63.20L61.00,298.45Z" fill="#fff" stroke="#111" stroke-width="0.9" stroke-linejoin="miter"/>
<path d="M63.10,295.35H67.50L65.30,299.45Z" fill="#fff" stroke="#111" stroke-width="0.9" stroke-linejoin="miter"/>
<path d="M57.40,298.65H61.80L59.60,302.75Z" fill="#fff" stroke="#111" stroke-width="0.9" stroke-linejoin="miter"/>
<path d="M60.80,299.15H65.20L63.00,303.25Z" fill="#fff" stroke="#111" stroke-width="0.9" stroke-linejoin="miter"/>
<path d="M64.10,299.65H68.50L66.30,303.75Z" fill="#fff" stroke="#111" stroke-width="0.9" stroke-linejoin="miter"/>
<path d="M58.80,301.55H63.20L61.00,305.65Z" fill="#fff" stroke="#111" stroke-width="0.9" stroke-linejoin="miter"/>
<path d="M56.50,305.85H60.90L58.70,309.95Z" fill="#fff" stroke="#111" stroke-width="0.9" stroke-linejoin="miter"/>
<path d="M60.00,305.55H64.40L62.20,309.65Z" fill="#fff" stroke="#111" stroke-width="0.9" stroke-linejoin="miter"/>
<path d="M63.20,306.45H67.60L65.40,310.55Z" fill="#fff" stroke="#111" stroke-width="0.9" stroke-linejoin="miter"/>
<path d="M54.60,307.75H59.00L56.80,311.85Z" fill="#fff" stroke="#111" stroke-width="0.9" stroke-linejoin="miter"/>
<path d="M58.10,308.55H62.50L60.30,312.65Z" fill="#fff" stroke="#111" stroke-width="0.9" stroke-linejoin="miter"/>
<path d="M58.40,312.05H62.80L60.60,316.15Z" fill="#fff" stroke="#111" stroke-width="0.9" stroke-linejoin="miter"/>
<path d="M63.70,312.55H68.10L65.90,316.65Z" fill="#fff" stroke="#111" stroke-width="0.9" stroke-linejoin="miter"/>
<path d="M57.80,316.85H62.20L60.00,320.95Z" fill="#fff" stroke="#111" stroke-width="0.9" stroke-linejoin="miter"/>
<path d="M61.60,317.45H66.00L63.80,321.55Z" fill="#fff" stroke="#111" stroke-width="0.9" stroke-linejoin="miter"/>
<path d="M63.70,319.05H68.10L65.90,323.15Z" fill="#fff" stroke="#111" stroke-width="0.9" stroke-linejoin="miter"/>
<path d="M54.60,322.25H59.00L56.80,326.35Z" fill="#fff" stroke="#111" stroke-width="0.9" stroke-linejoin="miter"/>
<path d="M57.80,324.35H62.20L60.00,328.45Z" fill="#fff" stroke="#111" stroke-width="0.9" stroke-linejoin="miter"/>
<path d="M60.50,323.35H64.90L62.70,327.45Z" fill="#fff" stroke="#111" stroke-width="0.9" stroke-linejoin="miter"/>
<path d="M64.30,324.35H68.70L66.50,328.45Z" fill="#fff" stroke="#111" stroke-width="0.9" stroke-linejoin="miter"/>
<path d="M60.50,329.45H64.90L62.70,333.55Z" fill="#fff" stroke="#111" stroke-width="0.9" stroke-linejoin="miter"/>
<path d="M64.10,331.55H68.50L66.30,335.65Z" fill="#fff" stroke="#111" stroke-width="0.9" stroke-linejoin="miter"/>
<path d="M54.80,334.65H59.20L57.00,338.75Z" fill="#fff" stroke="#111" stroke-width="0.9" stroke-linejoin="miter"/>
<path d="M60.60,337.15H65.00L62.80,341.25Z" fill="#fff" stroke="#111" stroke-width="0.9" stroke-linejoin="miter"/>
<path d="M58.10,340.45H62.50L60.30,344.55Z" fill="#fff" stroke="#111" stroke-width="0.9" stroke-linejoin="miter"/>
<path d="M60.60,344.45H65.00L62.80,348.55Z" fill="#fff" stroke="#111" stroke-width="0.9" stroke-linejoin="miter"/>
<path d="M64.00,343.75H68.40L66.20,347.85Z" fill="#fff" stroke="#111" stroke-width="0.9" stroke-linejoin="miter"/>
<line x1="57.10" y1="317.60" x2="69.20" y2="317.60" stroke="#111" stroke-width="1.5" />
<line x1="75.30" y1="299.10" x2="87.70" y2="299.10" stroke="#111" stroke-width="1.5" />
<circle cx="83.90" cy="289.60" r="1.75" fill="#fff" stroke="#111" stroke-width="0.95"/>
<circle cx="80.50" cy="294.40" r="1.75" fill="#fff" stroke="#111" stroke-width="0.95"/>
<circle cx="80.50" cy="303.00" r="1.75" fill="#fff" stroke="#111" stroke-width="0.95"/>
<circle cx="80.75" cy="354.75" r="1.75" fill="#fff" stroke="#111" stroke-width="0.95"/>
<line x1="93.00" y1="272.80" x2="106.00" y2="272.80" stroke="#111" stroke-width="1.5" />
<circle cx="99.20" cy="253.80" r="1.75" fill="#fff" stroke="#111" stroke-width="0.95"/>
<circle cx="93.20" cy="266.90" r="1.75" fill="#fff" stroke="#111" stroke-width="0.95"/>
<circle cx="98.90" cy="272.30" r="1.75" fill="#fff" stroke="#111" stroke-width="0.95"/>
<circle cx="102.30" cy="276.40" r="1.75" fill="#fff" stroke="#111" stroke-width="0.95"/>
<circle cx="98.90" cy="280.20" r="1.75" fill="#fff" stroke="#111" stroke-width="0.95"/>
<line x1="111.40" y1="280.60" x2="124.20" y2="280.60" stroke="#111" stroke-width="1.5" />
<circle cx="117.70" cy="264.90" r="1.75" fill="#fff" stroke="#111" stroke-width="0.95"/>
<circle cx="111.50" cy="270.80" r="1.75" fill="#fff" stroke="#111" stroke-width="0.95"/>
<circle cx="117.60" cy="276.20" r="1.75" fill="#fff" stroke="#111" stroke-width="0.95"/>
<circle cx="117.60" cy="287.70" r="1.75" fill="#fff" stroke="#111" stroke-width="0.95"/>
<circle cx="120.70" cy="286.00" r="1.75" fill="#fff" stroke="#111" stroke-width="0.95"/>
<circle cx="114.40" cy="283.90" r="2.25" fill="#111"/>
<line x1="129.90" y1="275.20" x2="142.40" y2="275.20" stroke="#111" stroke-width="1.5" />
<circle cx="132.90" cy="273.80" r="1.75" fill="#fff" stroke="#111" stroke-width="0.95"/>
<circle cx="135.80" cy="276.80" r="1.75" fill="#fff" stroke="#111" stroke-width="0.95"/>
<circle cx="137.00" cy="273.50" r="1.75" fill="#fff" stroke="#111" stroke-width="0.95"/>
<circle cx="138.80" cy="276.40" r="1.75" fill="#fff" stroke="#111" stroke-width="0.95"/>
<rect x="134.60" y="346.30" width="3.60" height="3.60" fill="#111"/>
<line x1="147.70" y1="273.80" x2="160.80" y2="273.80" stroke="#111" stroke-width="1.5" />
<circle cx="153.90" cy="266.90" r="1.75" fill="#fff" stroke="#111" stroke-width="0.95"/>
<circle cx="151.00" cy="272.30" r="1.75" fill="#fff" stroke="#111" stroke-width="0.95"/>
<circle cx="154.00" cy="275.00" r="1.75" fill="#fff" stroke="#111" stroke-width="0.95"/>
<circle cx="157.30" cy="275.00" r="1.75" fill="#fff" stroke="#111" stroke-width="0.95"/>
<rect x="152.10" y="305.30" width="3.60" height="3.60" fill="#111"/>
<line x1="166.20" y1="271.70" x2="178.70" y2="271.70" stroke="#111" stroke-width="1.5" />
<circle cx="172.10" cy="268.70" r="1.75" fill="#fff" stroke="#111" stroke-width="0.95"/>
<circle cx="169.20" cy="270.50" r="1.75" fill="#fff" stroke="#111" stroke-width="0.95"/>
<circle cx="175.10" cy="272.90" r="1.75" fill="#fff" stroke="#111" stroke-width="0.95"/>
<circle cx="172.10" cy="276.40" r="1.75" fill="#fff" stroke="#111" stroke-width="0.95"/>
<line x1="184.60" y1="269.00" x2="197.10" y2="269.00" stroke="#111" stroke-width="1.5" />
<circle cx="187.40" cy="264.50" r="1.75" fill="#fff" stroke="#111" stroke-width="0.95"/>
<circle cx="190.60" cy="270.50" r="1.75" fill="#fff" stroke="#111" stroke-width="0.95"/>
<circle cx="193.60" cy="268.70" r="1.75" fill="#fff" stroke="#111" stroke-width="0.95"/>
<line x1="202.40" y1="273.10" x2="215.80" y2="273.10" stroke="#111" stroke-width="1.5" />
<circle cx="208.70" cy="269.00" r="1.75" fill="#fff" stroke="#111" stroke-width="0.95"/>
<circle cx="211.70" cy="272.30" r="1.75" fill="#fff" stroke="#111" stroke-width="0.95"/>
<circle cx="208.70" cy="276.70" r="1.75" fill="#fff" stroke="#111" stroke-width="0.95"/>
<line x1="221.00" y1="272.90" x2="233.70" y2="272.90" stroke="#111" stroke-width="1.5" />
<circle cx="229.80" cy="270.50" r="1.75" fill="#fff" stroke="#111" stroke-width="0.95"/>
<circle cx="226.50" cy="275.00" r="1.75" fill="#fff" stroke="#111" stroke-width="0.95"/>
<line x1="239.00" y1="273.20" x2="251.90" y2="273.20" stroke="#111" stroke-width="1.5" />
<circle cx="245.20" cy="269.90" r="1.75" fill="#fff" stroke="#111" stroke-width="0.95"/>
<circle cx="245.20" cy="276.40" r="1.75" fill="#fff" stroke="#111" stroke-width="0.95"/>
<line x1="319.10" y1="253.00" x2="319.10" y2="383.90" stroke="#505050" stroke-width="1.2" />
<line x1="315.30" y1="383.90" x2="319.10" y2="383.90" stroke="#505050" stroke-width="1.2" />
<text x="312.50" y="387.20" font-size="9.5" text-anchor="end" font-weight="normal" font-style="normal" fill="#111" >0</text>
<line x1="315.30" y1="351.17" x2="319.10" y2="351.17" stroke="#505050" stroke-width="1.2" />
<text x="312.50" y="354.47" font-size="9.5" text-anchor="end" font-weight="normal" font-style="normal" fill="#111" >250</text>
<line x1="315.30" y1="318.45" x2="319.10" y2="318.45" stroke="#505050" stroke-width="1.2" />
<text x="312.50" y="321.75" font-size="9.5" text-anchor="end" font-weight="normal" font-style="normal" fill="#111" >500</text>
<line x1="315.30" y1="285.73" x2="319.10" y2="285.73" stroke="#505050" stroke-width="1.2" />
<text x="312.50" y="289.03" font-size="9.5" text-anchor="end" font-weight="normal" font-style="normal" fill="#111" >750</text>
<line x1="315.30" y1="253.00" x2="319.10" y2="253.00" stroke="#505050" stroke-width="1.2" />
<text x="312.50" y="256.30" font-size="9.5" text-anchor="end" font-weight="normal" font-style="normal" fill="#111" >1000</text>
<line x1="315.00" y1="383.90" x2="516.50" y2="383.90" stroke="#505050" stroke-width="1.2" />
<line x1="328.10" y1="383.90" x2="328.10" y2="387.70" stroke="#505050" stroke-width="1.2" />
<text x="328.10" y="398.50" font-size="9.7" text-anchor="middle" font-weight="normal" font-style="normal" fill="#111" >hc</text>
<line x1="346.02" y1="383.90" x2="346.02" y2="387.70" stroke="#505050" stroke-width="1.2" />
<text transform="translate(347.32,398.40) scale(1.13,1)" font-size="7.5" text-anchor="middle" fill="#111" style="stroke-width:0.16px">before</text>
<line x1="363.94" y1="383.90" x2="363.94" y2="387.70" stroke="#505050" stroke-width="1.2" />
<text x="363.94" y="398.50" font-size="9.7" text-anchor="middle" font-weight="normal" font-style="normal" fill="#111" >6</text>
<line x1="381.86" y1="383.90" x2="381.86" y2="387.70" stroke="#505050" stroke-width="1.2" />
<text x="381.86" y="398.50" font-size="9.7" text-anchor="middle" font-weight="normal" font-style="normal" fill="#111" >12</text>
<line x1="399.78" y1="383.90" x2="399.78" y2="387.70" stroke="#505050" stroke-width="1.2" />
<text x="399.78" y="398.50" font-size="9.7" text-anchor="middle" font-weight="normal" font-style="normal" fill="#111" >24</text>
<line x1="417.70" y1="383.90" x2="417.70" y2="387.70" stroke="#505050" stroke-width="1.2" />
<text x="417.70" y="398.50" font-size="9.7" text-anchor="middle" font-weight="normal" font-style="normal" fill="#111" >36</text>
<line x1="435.62" y1="383.90" x2="435.62" y2="387.70" stroke="#505050" stroke-width="1.2" />
<text x="435.62" y="398.50" font-size="9.7" text-anchor="middle" font-weight="normal" font-style="normal" fill="#111" >48</text>
<line x1="453.54" y1="383.90" x2="453.54" y2="387.70" stroke="#505050" stroke-width="1.2" />
<text x="453.54" y="398.50" font-size="9.7" text-anchor="middle" font-weight="normal" font-style="normal" fill="#111" >60</text>
<line x1="471.46" y1="383.90" x2="471.46" y2="387.70" stroke="#505050" stroke-width="1.2" />
<text x="471.46" y="398.50" font-size="9.7" text-anchor="middle" font-weight="normal" font-style="normal" fill="#111" >72</text>
<line x1="489.38" y1="383.90" x2="489.38" y2="387.70" stroke="#505050" stroke-width="1.2" />
<text x="489.38" y="398.50" font-size="9.7" text-anchor="middle" font-weight="normal" font-style="normal" fill="#111" >84</text>
<line x1="507.30" y1="383.90" x2="507.30" y2="387.70" stroke="#505050" stroke-width="1.2" />
<text x="507.30" y="398.50" font-size="9.7" text-anchor="middle" font-weight="normal" font-style="normal" fill="#111" >96</text>
<text x="346.32" y="412.00" font-size="9.5" text-anchor="middle" font-weight="normal" font-style="normal" fill="#111" >Tx</text>
<text x="371.60" y="418.40" font-size="11" text-anchor="start" font-weight="normal" font-style="normal" fill="#111" >Months after ASCT</text>
<text x="263.20" y="224.40" font-size="17" text-anchor="start" font-weight="bold" font-style="normal" fill="#000" style="stroke-width:0">D</text>
<text transform="translate(275.30,319.20) rotate(-90)" x="0" y="0" font-size="10.9" text-anchor="middle" fill="#111"><tspan font-size="7.8" dy="-6.2">thymic</tspan><tspan dy="6.2">naive CD31</tspan><tspan font-size="7" dy="-4.2">+</tspan><tspan dy="4.2"> </tspan>CD45RA<tspan font-size="7" dy="-4.2">+</tspan></text>
<text transform="translate(290.20,320.00) rotate(-90)" x="0" y="0" font-size="11.1" text-anchor="middle" fill="#111">CD4<tspan font-size="7" dy="-4.2">+</tspan><tspan dy="4.2"> </tspan>T cells /µl</text>
<text x="324.40" y="226.90" font-size="8.1" fill="#2a2a2a" style="stroke:#2a2a2a;stroke-width:0.16px"><tspan font-style="italic">P</tspan> =.001</text>
<path d="M328.80,231.40V229.20H347.50V231.40" fill="none" stroke="#666" stroke-width="0.9"/>
<text x="366.20" y="243.20" font-size="8.1" fill="#2a2a2a" style="stroke:#2a2a2a;stroke-width:0.16px"><tspan font-style="italic">P</tspan> = .031</text>
<path d="M347.40,247.90V245.70H418.50V247.90" fill="none" stroke="#666" stroke-width="0.9"/>
<circle cx="361.90" cy="230.10" r="1.2" fill="#111"/>
<circle cx="365.50" cy="230.10" r="1.2" fill="#111"/>
<circle cx="369.10" cy="230.10" r="1.2" fill="#111"/>
<circle cx="419.30" cy="230.10" r="1.45" fill="#111"/>
<circle cx="437.80" cy="230.10" r="1.45" fill="#111"/>
<circle cx="472.90" cy="230.10" r="1.45" fill="#111"/>
<path d="M322.50,324.25H326.90L324.70,328.35Z" fill="#fff" stroke="#111" stroke-width="0.9" stroke-linejoin="miter"/>
<path d="M325.40,324.65H329.80L327.60,328.75Z" fill="#fff" stroke="#111" stroke-width="0.9" stroke-linejoin="miter"/>
<path d="M327.90,323.75H332.30L330.10,327.85Z" fill="#fff" stroke="#111" stroke-width="0.9" stroke-linejoin="miter"/>
<path d="M329.30,325.15H333.70L331.50,329.25Z" fill="#fff" stroke="#111" stroke-width="0.9" stroke-linejoin="miter"/>
<path d="M325.80,328.35H330.20L328.00,332.45Z" fill="#fff" stroke="#111" stroke-width="0.9" stroke-linejoin="miter"/>
<path d="M322.10,345.45H326.50L324.30,349.55Z" fill="#fff" stroke="#111" stroke-width="0.9" stroke-linejoin="miter"/>
<path d="M324.60,345.45H329.00L326.80,349.55Z" fill="#fff" stroke="#111" stroke-width="0.9" stroke-linejoin="miter"/>
<path d="M327.30,345.25H331.70L329.50,349.35Z" fill="#fff" stroke="#111" stroke-width="0.9" stroke-linejoin="miter"/>
<path d="M329.80,346.25H334.20L332.00,350.35Z" fill="#fff" stroke="#111" stroke-width="0.9" stroke-linejoin="miter"/>
<path d="M320.20,348.75H324.60L322.40,352.85Z" fill="#fff" stroke="#111" stroke-width="0.9" stroke-linejoin="miter"/>
<path d="M325.80,349.95H330.20L328.00,354.05Z" fill="#fff" stroke="#111" stroke-width="0.9" stroke-linejoin="miter"/>
<path d="M325.80,353.45H330.20L328.00,357.55Z" fill="#fff" stroke="#111" stroke-width="0.9" stroke-linejoin="miter"/>
<path d="M321.80,356.45H326.20L324.00,360.55Z" fill="#fff" stroke="#111" stroke-width="0.9" stroke-linejoin="miter"/>
<path d="M325.80,356.95H330.20L328.00,361.05Z" fill="#fff" stroke="#111" stroke-width="0.9" stroke-linejoin="miter"/>
<path d="M329.80,356.75H334.20L332.00,360.85Z" fill="#fff" stroke="#111" stroke-width="0.9" stroke-linejoin="miter"/>
<path d="M322.80,360.45H327.20L325.00,364.55Z" fill="#fff" stroke="#111" stroke-width="0.9" stroke-linejoin="miter"/>
<path d="M328.30,360.95H332.70L330.50,365.05Z" fill="#fff" stroke="#111" stroke-width="0.9" stroke-linejoin="miter"/>
<path d="M320.80,364.45H325.20L323.00,368.55Z" fill="#fff" stroke="#111" stroke-width="0.9" stroke-linejoin="miter"/>
<path d="M324.80,364.95H329.20L327.00,369.05Z" fill="#fff" stroke="#111" stroke-width="0.9" stroke-linejoin="miter"/>
<path d="M328.80,364.45H333.20L331.00,368.55Z" fill="#fff" stroke="#111" stroke-width="0.9" stroke-linejoin="miter"/>
<path d="M322.80,368.45H327.20L325.00,372.55Z" fill="#fff" stroke="#111" stroke-width="0.9" stroke-linejoin="miter"/>
<path d="M328.80,368.95H333.20L331.00,373.05Z" fill="#fff" stroke="#111" stroke-width="0.9" stroke-linejoin="miter"/>
<path d="M324.80,372.45H329.20L327.00,376.55Z" fill="#fff" stroke="#111" stroke-width="0.9" stroke-linejoin="miter"/>
<path d="M328.80,372.95H333.20L331.00,377.05Z" fill="#fff" stroke="#111" stroke-width="0.9" stroke-linejoin="miter"/>
<path d="M325.80,376.45H330.20L328.00,380.55Z" fill="#fff" stroke="#111" stroke-width="0.9" stroke-linejoin="miter"/>
<line x1="321.40" y1="362.70" x2="334.80" y2="362.70" stroke="#111" stroke-width="1.5" />
<line x1="340.20" y1="380.20" x2="352.30" y2="380.20" stroke="#111" stroke-width="1.5" />
<circle cx="346.00" cy="366.70" r="1.75" fill="#fff" stroke="#111" stroke-width="0.95"/>
<circle cx="342.50" cy="379.40" r="1.75" fill="#fff" stroke="#111" stroke-width="0.95"/>
<circle cx="348.80" cy="379.40" r="1.75" fill="#fff" stroke="#111" stroke-width="0.95"/>
<circle cx="346.00" cy="382.50" r="1.75" fill="#fff" stroke="#111" stroke-width="0.95"/>
<line x1="358.10" y1="381.70" x2="370.20" y2="381.70" stroke="#111" stroke-width="1.5" />
<circle cx="363.80" cy="375.90" r="1.75" fill="#fff" stroke="#111" stroke-width="0.95"/>
<circle cx="365.00" cy="378.50" r="1.75" fill="#fff" stroke="#111" stroke-width="0.95"/>
<circle cx="361.00" cy="380.80" r="1.75" fill="#fff" stroke="#111" stroke-width="0.95"/>
<circle cx="366.20" cy="381.90" r="1.75" fill="#fff" stroke="#111" stroke-width="0.95"/>
<circle cx="363.30" cy="382.50" r="1.75" fill="#fff" stroke="#111" stroke-width="0.95"/>
<line x1="376.00" y1="368.70" x2="388.30" y2="368.70" stroke="#111" stroke-width="1.5" />
<circle cx="381.80" cy="339.50" r="1.75" fill="#fff" stroke="#111" stroke-width="0.95"/>
<circle cx="375.60" cy="362.70" r="1.75" fill="#fff" stroke="#111" stroke-width="0.95"/>
<circle cx="381.70" cy="362.70" r="1.75" fill="#fff" stroke="#111" stroke-width="0.95"/>
<circle cx="378.60" cy="373.30" r="1.75" fill="#fff" stroke="#111" stroke-width="0.95"/>
<circle cx="381.20" cy="375.60" r="1.75" fill="#fff" stroke="#111" stroke-width="0.95"/>
<circle cx="384.60" cy="375.30" r="2.25" fill="#111"/>
<line x1="393.90" y1="356.40" x2="406.10" y2="356.40" stroke="#111" stroke-width="1.5" />
<circle cx="399.80" cy="326.40" r="1.75" fill="#fff" stroke="#111" stroke-width="0.95"/>
<circle cx="399.80" cy="333.90" r="1.75" fill="#fff" stroke="#111" stroke-width="0.95"/>
<circle cx="399.80" cy="355.10" r="1.75" fill="#fff" stroke="#111" stroke-width="0.95"/>
<circle cx="402.40" cy="360.80" r="1.75" fill="#fff" stroke="#111" stroke-width="0.95"/>
<circle cx="399.80" cy="366.30" r="1.75" fill="#fff" stroke="#111" stroke-width="0.95"/>
<rect x="398.00" y="378.90" width="3.60" height="3.60" fill="#111"/>
<line x1="411.60" y1="326.80" x2="424.30" y2="326.80" stroke="#111" stroke-width="1.5" />
<circle cx="417.60" cy="321.30" r="1.75" fill="#fff" stroke="#111" stroke-width="0.95"/>
<circle cx="420.70" cy="317.80" r="1.75" fill="#fff" stroke="#111" stroke-width="0.95"/>
<circle cx="417.60" cy="332.40" r="1.75" fill="#fff" stroke="#111" stroke-width="0.95"/>
<circle cx="417.60" cy="352.30" r="1.75" fill="#fff" stroke="#111" stroke-width="0.95"/>
<rect x="415.80" y="378.90" width="3.60" height="3.60" fill="#111"/>
<line x1="429.70" y1="332.30" x2="442.10" y2="332.30" stroke="#111" stroke-width="1.5" />
<circle cx="435.50" cy="279.90" r="1.75" fill="#fff" stroke="#111" stroke-width="0.95"/>
<circle cx="435.50" cy="323.30" r="1.75" fill="#fff" stroke="#111" stroke-width="0.95"/>
<circle cx="435.50" cy="340.90" r="1.75" fill="#fff" stroke="#111" stroke-width="0.95"/>
<circle cx="435.50" cy="350.30" r="1.75" fill="#fff" stroke="#111" stroke-width="0.95"/>
<line x1="447.40" y1="339.20" x2="460.00" y2="339.20" stroke="#111" stroke-width="1.5" />
<circle cx="453.30" cy="305.80" r="1.75" fill="#fff" stroke="#111" stroke-width="0.95"/>
<circle cx="453.30" cy="338.80" r="1.75" fill="#fff" stroke="#111" stroke-width="0.95"/>
<circle cx="453.30" cy="354.20" r="1.75" fill="#fff" stroke="#111" stroke-width="0.95"/>
<line x1="465.40" y1="336.30" x2="478.00" y2="336.30" stroke="#111" stroke-width="1.5" />
<circle cx="471.40" cy="294.40" r="1.75" fill="#fff" stroke="#111" stroke-width="0.95"/>
<circle cx="471.40" cy="335.90" r="1.75" fill="#fff" stroke="#111" stroke-width="0.95"/>
<circle cx="471.40" cy="347.50" r="1.75" fill="#fff" stroke="#111" stroke-width="0.95"/>
<line x1="483.50" y1="311.00" x2="495.90" y2="311.00" stroke="#111" stroke-width="1.5" />
<circle cx="489.40" cy="283.00" r="1.75" fill="#fff" stroke="#111" stroke-width="0.95"/>
<circle cx="489.40" cy="339.00" r="1.75" fill="#fff" stroke="#111" stroke-width="0.95"/>
<line x1="501.60" y1="331.90" x2="514.00" y2="331.90" stroke="#111" stroke-width="1.5" />
<circle cx="507.30" cy="327.10" r="1.75" fill="#fff" stroke="#111" stroke-width="0.95"/>
<circle cx="507.30" cy="336.10" r="1.75" fill="#fff" stroke="#111" stroke-width="0.95"/>
</svg>
</body></html>
